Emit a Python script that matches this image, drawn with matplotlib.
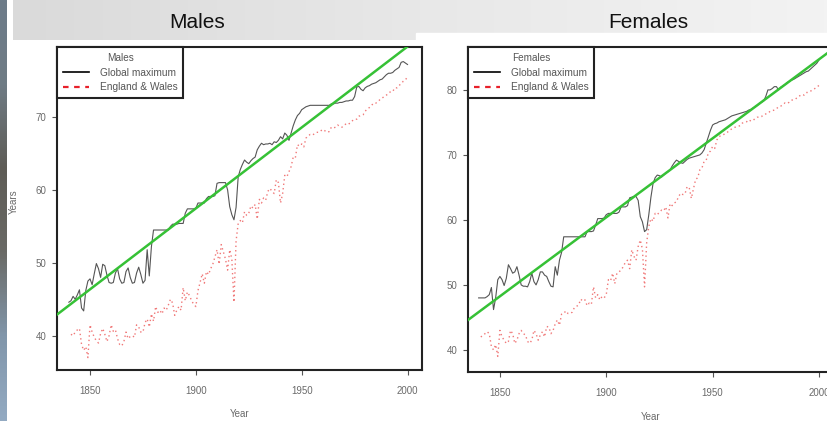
import numpy as np
import matplotlib
matplotlib.use("Agg")
import matplotlib.pyplot as plt
from matplotlib.lines import Line2D
from matplotlib.colors import LinearSegmentedColormap

plt.rcParams["font.family"] = ["Liberation Sans", "DejaVu Sans"]

W, H = 828, 421

# ---- data ----
years_max = np.arange(1840, 2001)
years_ew = np.arange(1841, 2001)

male_max = [
    44.6, 44.8, 45.4, 45.0, 45.6, 46.3, 43.8, 43.4, 46.2, 47.5,
    47.8, 47.0, 48.5, 49.9, 49.2, 48.0, 49.8, 49.6, 48.3, 47.3,
    47.2, 47.3, 48.6, 49.2, 47.8, 47.2, 47.3, 48.8, 49.3, 48.0,
    47.2, 47.3, 48.6, 49.4, 48.4, 47.2, 47.6, 51.8, 48.2, 52.2,
    54.5, 54.5, 54.5, 54.5, 54.5, 54.5, 54.5, 54.5, 55.0, 55.3,
    55.3, 55.3, 55.4, 55.4, 55.4, 56.8, 57.4, 57.4, 57.4, 57.4,
    57.5, 58.2, 58.2, 58.2, 58.2, 58.8, 59.1, 59.1, 59.1, 59.2,
    60.9, 61.0, 61.0, 61.0, 61.0, 60.0, 57.7, 56.6, 55.9, 57.6,
    61.8, 62.8, 63.5, 64.1, 63.8, 63.6, 64.0, 64.3, 64.5, 65.5,
    66.0, 66.4, 66.2, 66.3, 66.3, 66.4, 66.2, 66.6, 66.5, 66.8,
    67.3, 67.0, 67.8, 67.5, 66.8, 67.8, 68.8, 69.6, 70.2, 70.5,
    71.0, 71.2, 71.4, 71.5, 71.6, 71.6, 71.6, 71.6, 71.6, 71.6,
    71.6, 71.6, 71.6, 71.6, 71.8, 71.8, 71.9, 71.9, 72.0, 72.0,
    72.1, 72.2, 72.2, 72.3, 72.3, 72.8, 74.1, 74.2, 73.8, 73.6,
    74.0, 74.2, 74.3, 74.5, 74.6, 74.7, 74.9, 75.1, 75.2, 75.5,
    75.8, 76.0, 76.0, 76.1, 76.4, 76.6, 76.8, 77.5, 77.6, 77.4,
    77.2,
]

male_ew = [
    40.2, 40.0, 40.5, 40.8, 41.0, 38.8, 38.0, 38.5, 37.0,
    41.5, 40.5, 39.8, 39.3, 39.0, 40.3, 41.0, 40.2, 39.2, 40.0,
    41.5, 40.6, 40.8, 39.6, 38.8, 38.6, 39.2, 40.5, 39.6, 39.9,
    40.0, 39.8, 41.5, 41.2, 40.5, 40.5, 41.8, 42.3, 41.2, 43.0,
    42.0, 44.0, 43.2, 43.5, 43.0, 43.8, 43.5, 44.2, 45.0, 44.5,
    42.8, 43.5, 44.0, 43.5, 46.6, 44.8, 46.0, 45.5, 44.8, 44.3,
    44.0, 46.2, 47.3, 48.5, 47.2, 48.8, 48.4, 49.2, 49.8, 50.8,
    51.8, 49.8, 52.5, 51.5, 50.5, 49.0, 51.8, 50.5, 44.6, 53.0,
    55.4, 55.8, 55.5, 57.0, 56.5, 56.8, 57.8, 57.5, 58.0, 56.0,
    58.7, 58.2, 58.9, 58.6, 59.8, 60.2, 59.8, 59.5, 61.4, 61.0,
    58.2, 59.5, 62.0, 61.8, 62.5, 63.2, 64.5, 64.4, 66.2, 66.0,
    66.3, 65.9, 67.1, 67.4, 67.6, 67.5, 67.7, 67.9, 67.9, 68.1,
    68.3, 68.1, 67.9, 68.0, 68.6, 68.5, 68.6, 68.9, 68.7, 68.6,
    68.8, 69.1, 69.0, 69.2, 69.5, 69.7, 69.7, 70.1, 70.2, 70.3,
    70.8, 71.1, 71.3, 71.6, 71.9, 71.9, 72.1, 72.4, 72.6, 72.8,
    73.0, 73.2, 73.5, 73.5, 74.0, 74.0, 74.3, 74.6, 74.9, 75.1,
    75.5,
]

female_max = [
    48.0, 48.0, 48.0, 48.0, 48.2, 48.5, 49.6, 46.2, 48.0, 50.8,
    51.3, 50.8, 49.9, 51.0, 53.1, 52.5, 51.8, 52.0, 52.8, 51.5,
    50.0, 49.8, 49.8, 49.7, 50.5, 51.8, 50.5, 50.0, 50.8, 52.0,
    52.0, 51.5, 51.3, 50.5, 49.8, 49.7, 52.8, 51.5, 53.8, 55.0,
    57.4, 57.4, 57.4, 57.4, 57.4, 57.4, 57.4, 57.4, 57.4, 57.4,
    57.4, 58.2, 58.2, 58.2, 58.3, 59.2, 60.2, 60.2, 60.2, 60.3,
    60.8, 61.0, 61.0, 61.0, 61.0, 61.0, 61.2, 62.0, 62.0, 62.0,
    62.2, 63.4, 63.5, 63.6, 63.6, 63.0, 60.5, 59.7, 58.2, 58.5,
    60.8, 63.5, 65.6, 66.5, 66.9, 66.8, 66.6, 66.9, 67.2, 67.4,
    67.7, 68.3, 68.8, 69.2, 69.0, 68.8, 68.7, 69.0, 69.3, 69.5,
    69.6, 69.7, 69.8, 69.9, 70.0, 70.3, 70.8, 71.8, 72.8, 73.8,
    74.6, 74.8, 74.9, 75.1, 75.2, 75.3, 75.4, 75.6, 75.8, 76.0,
    76.1, 76.2, 76.3, 76.4, 76.5, 76.6, 76.7, 76.9, 77.0, 77.2,
    77.4, 77.6, 77.9, 78.1, 78.3, 79.0, 80.0, 80.0, 80.2, 80.5,
    80.5, 80.0, 80.4, 80.6, 80.8, 81.1, 81.3, 81.5, 81.6, 81.8,
    82.0, 82.2, 82.4, 82.6, 82.8, 82.9, 83.2, 83.5, 83.8, 84.1,
    84.6,
]

female_ew = [
    42.0, 42.2, 42.5, 42.8, 42.5, 40.5, 40.0, 40.8, 39.0,
    43.0, 42.0, 41.5, 41.0, 41.3, 43.0, 42.5, 41.0, 41.5, 42.5,
    43.0, 42.5, 42.3, 41.3, 41.0, 41.5, 43.0, 42.5, 41.5, 42.3,
    42.8, 42.0, 43.6, 43.5, 42.5, 43.0, 44.0, 44.6, 43.8, 45.5,
    45.6, 46.0, 45.6, 45.6, 45.8, 46.5, 46.7, 46.9, 47.8, 47.5,
    47.7, 46.8, 47.2, 47.0, 49.7, 48.0, 48.5, 47.7, 48.2, 48.0,
    48.5, 50.8, 50.6, 51.8, 50.2, 51.8, 52.0, 52.3, 52.8, 53.5,
    53.8, 52.5, 55.4, 54.4, 53.8, 55.9, 56.9, 55.5, 49.7, 56.5,
    59.0, 60.2, 59.8, 61.0, 60.8, 61.2, 61.5, 61.4, 62.0, 60.3,
    62.5, 62.2, 62.6, 62.8, 63.6, 64.1, 63.9, 64.0, 65.1, 65.0,
    63.3, 64.8, 66.2, 66.5, 67.7, 68.0, 69.0, 69.2, 70.3, 70.6,
    71.3, 71.0, 72.3, 72.8, 73.0, 73.1, 73.3, 73.5, 73.8, 74.0,
    74.2, 74.3, 74.4, 74.5, 74.9, 75.0, 75.1, 75.4, 75.2, 75.3,
    75.6, 75.8, 75.8, 75.9, 76.2, 76.3, 76.4, 76.7, 76.8, 76.9,
    77.1, 77.4, 77.5, 77.7, 78.0, 77.9, 78.1, 78.4, 78.5, 78.6,
    78.9, 79.1, 79.3, 79.2, 79.6, 79.6, 79.8, 80.0, 80.2, 80.4,
    80.7,
]

# linear trend of record life expectancy: (anchor year, value, slope per year)
male_trend = (1834.4, 42.9, 0.222)
female_trend = (1835.0, 44.6, 0.243)

x_ticks = [1850, 1900, 1950, 2000]
male_yticks = [40, 50, 60, 70]
female_yticks = [40, 50, 60, 70, 80]


def px_axes(fig, x0, y0, x1, y1, **kw):
    return fig.add_axes([x0 / W, 1 - y1 / H, (x1 - x0) / W, (y1 - y0) / H], **kw)


fig = plt.figure(figsize=(W / 100, H / 100), dpi=100)
fig.patch.set_facecolor("white")

# slide decoration: left strip and header band
bg = px_axes(fig, 0, 0, W, H, zorder=0)
bg.set_xlim(0, W)
bg.set_ylim(H, 0)
bg.axis("off")
strip_cmap = LinearSegmentedColormap.from_list(
    "strip", ["#6d7c89", "#6f7b84", "#5e5c56", "#6a6a66", "#8196aa", "#93aac2"])
bg.imshow(np.linspace(0, 1, 200).reshape(-1, 1), cmap=strip_cmap, aspect="auto",
          extent=(0, 6.5, H, 0), zorder=1)
head_cmap = LinearSegmentedColormap.from_list("head", ["#dadada", "#e8e8e8", "#f3f3f3"])
bg.imshow(np.linspace(0, 1, 200).reshape(1, -1), cmap=head_cmap, aspect="auto",
          extent=(13, W, 40, 0), zorder=1)
bg.add_patch(plt.Rectangle((416, 33), W - 416, H - 33, color="white", zorder=2))
bg.text(197, 22, "Males", fontsize=15, ha="center", va="center", color="#111111", zorder=3)
bg.text(648, 22, "Females", fontsize=15, ha="center", va="center", color="#111111", zorder=3)

TXT = "#6a6a6a"


def panel(ax, ymax, yew, trend, xlim, ylim, yticks, title, ylabel):
    ax.plot(years_max, ymax, color="#555555", lw=0.8, zorder=3)
    ax.plot(years_ew, yew, color="#f07878", lw=1.0, ls=(0, (1, 2.2)), zorder=2)
    x0, v0, s = trend
    ax.axline((x0, v0), slope=s, color="#36c136", lw=1.8, zorder=4)
    ax.set_xlim(*xlim)
    ax.set_ylim(*ylim)
    ax.set_xticks(x_ticks)
    ax.set_yticks(yticks)
    ax.tick_params(direction="out", length=3.8, width=0.8, color="#555555",
                   labelsize=7, labelcolor=TXT, pad=4)
    ax.tick_params(axis="x", pad=8)
    for sp in ax.spines.values():
        sp.set_linewidth(1.5)
        sp.set_color("#222222")
    ax.set_xlabel("Year", fontsize=7, color=TXT)
    ax.xaxis.set_label_coords(0.5, -0.122)
    if ylabel:
        ax.set_ylabel(ylabel, fontsize=7, color=TXT)
        ax.yaxis.set_label_coords(-0.104, 0.52)
    handles = [Line2D([], [], color="black", lw=1.2),
               Line2D([], [], color="#e8202a", lw=1.6, ls=(0, (2.5, 2.5)))]
    leg = ax.legend(handles, ["Global maximum", "England & Wales"], title=title,
                    loc="upper left", borderaxespad=0, fancybox=False,
                    edgecolor="#222222", framealpha=1, fontsize=7.3,
                    title_fontsize=7.2, handlelength=2.6, handletextpad=1.0,
                    labelspacing=0.45, borderpad=0.6)
    leg.get_frame().set_linewidth(1.5)
    for t in leg.get_texts():
        t.set_color("#555555")
    leg.get_title().set_color("#555555")


ax1 = px_axes(fig, 57, 47, 421.5, 370, zorder=5)
panel(ax1, male_max, male_ew, male_trend, (1834.4, 2006.6), (35.3, 79.6),
      male_yticks, "Males", "Years")

ax2 = px_axes(fig, 468, 47, 833, 372, zorder=5)
panel(ax2, female_max, female_ew, female_trend, (1835.0, 2006.6), (36.6, 86.6),
      female_yticks, "Females", None)

fig.savefig("out.png", dpi=100, facecolor=fig.get_facecolor())
